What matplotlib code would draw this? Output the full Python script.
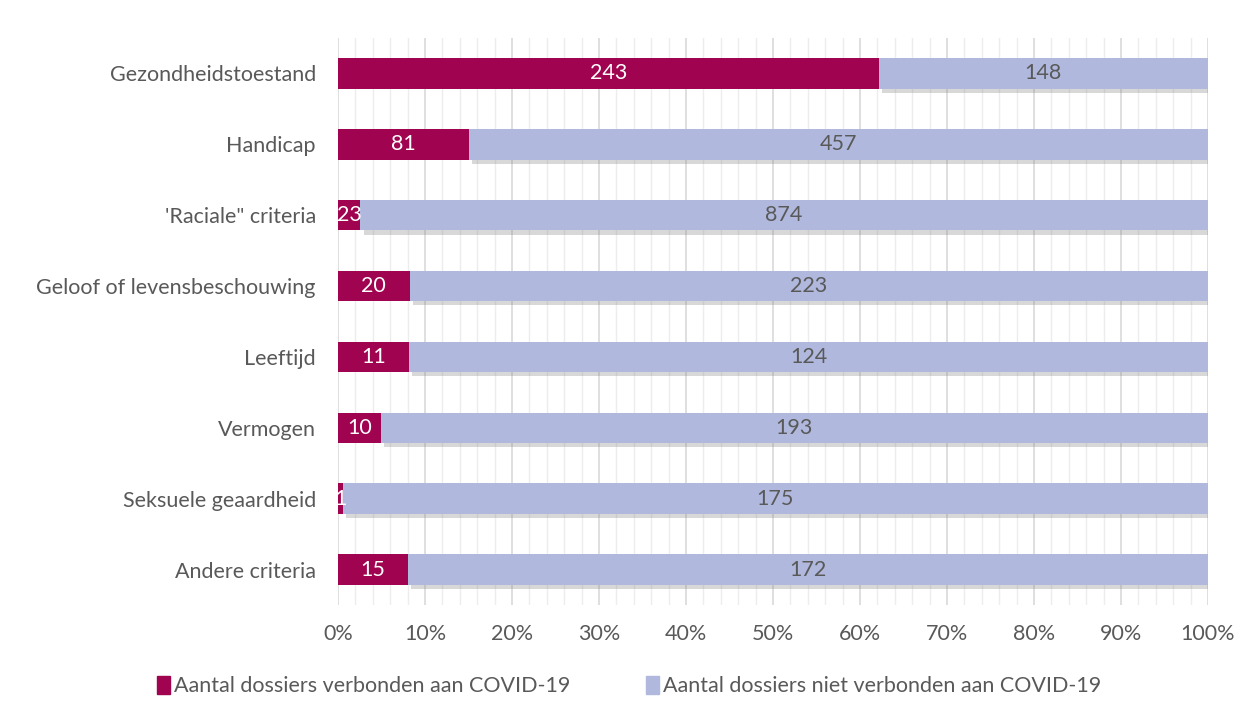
import numpy as np
import matplotlib.pyplot as plt
import matplotlib.patheffects as pe
from matplotlib.patches import Patch
from matplotlib.ticker import MultipleLocator, PercentFormatter

plt.rcParams['font.family'] = ['Lato', 'DejaVu Sans']

# Data
categories = ["Gezondheidstoestand", "Handicap", "'Raciale\" criteria",
              "Geloof of levensbeschouwing", "Leeftijd", "Vermogen",
              "Seksuele geaardheid", "Andere criteria"]
covid = [243, 81, 23, 20, 11, 10, 1, 15]
non_covid = [148, 457, 874, 223, 124, 193, 175, 172]
labels = ["Aantal dossiers verbonden aan COVID-19",
          "Aantal dossiers niet verbonden aan COVID-19"]

covid = np.array(covid, dtype=float)
non_covid = np.array(non_covid, dtype=float)
total = covid + non_covid
p_covid = covid / total * 100
p_non = non_covid / total * 100

c1 = '#A0034F'
c2 = '#B0B9DD'
txt = '#595959'
fs = 15.5

fig = plt.figure(figsize=(12.58, 7.17), dpi=100)
ax = fig.add_axes([338 / 1258, 1 - 605 / 717, 870 / 1258, 567 / 717])

y = np.arange(len(categories))
shadow = [pe.SimplePatchShadow(offset=(2.5, -3), shadow_rgbFace='#7f7f7f', alpha=0.3), pe.Normal()]

b1 = ax.barh(y, p_covid, height=0.43, color=c1, zorder=3)
b2 = ax.barh(y, p_non, left=p_covid, height=0.43, color=c2, zorder=2)
for r in b2:
    r.set_path_effects(shadow)

for i in range(len(categories)):
    ax.text(p_covid[i] / 2, y[i], f"{int(covid[i])}", ha='center', va='center',
            color='white', fontsize=fs, zorder=4)
    ax.text(p_covid[i] + p_non[i] / 2, y[i], f"{int(non_covid[i])}", ha='center',
            va='center', color=txt, fontsize=fs, zorder=4)

ax.set_xlim(0, 100)
ax.set_ylim(len(categories) - 0.5, -0.5)
ax.set_yticks(y)
ax.set_yticklabels(categories)
ax.xaxis.set_major_locator(MultipleLocator(10))
ax.xaxis.set_minor_locator(MultipleLocator(2))
ax.xaxis.set_major_formatter(PercentFormatter(decimals=0))
ax.grid(axis='x', which='major', color='#D9D9D9', linewidth=1.2, zorder=0)
ax.grid(axis='x', which='minor', color='#EDEDED', linewidth=1.0, zorder=0)
ax.set_axisbelow(True)
for s in ax.spines.values():
    s.set_visible(False)
ax.tick_params(axis='both', which='both', length=0, labelsize=fs, colors=txt)
ax.tick_params(axis='x', pad=14)
ax.tick_params(axis='y', pad=16)

handles = [Patch(color=c1), Patch(color=c2)]
fig.legend(handles=handles, labels=labels, loc='center', bbox_to_anchor=(0.5, 1 - 686 / 717),
           ncol=2, frameon=False, fontsize=fs, handlelength=0.6, handleheight=0.9,
           handletextpad=0.2, columnspacing=3.5, labelcolor=txt)

fig.savefig('out.png', dpi=100)
